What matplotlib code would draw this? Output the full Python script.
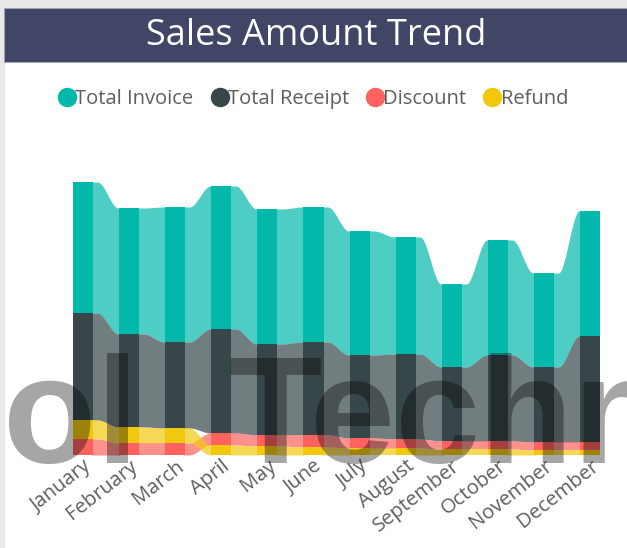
import numpy as np
import matplotlib
matplotlib.use("Agg")
import matplotlib.pyplot as plt
from matplotlib.patches import Rectangle
from matplotlib.lines import Line2D

months = ["January", "February", "March", "April", "May", "June",
          "July", "August", "September", "October", "November", "December"]

# values (thousands)
total_invoice = [131, 126, 135, 143, 135, 135, 124, 117, 83, 115, 94, 125]
total_receipt = [107, 93, 86, 104, 91, 93, 83, 85, 74, 86, 75, 106]
discount = [16, 12, 12, 12, 11, 12, 10, 9, 8, 8, 8, 8]
refund = [19, 16, 15, 10, 9, 8, 7, 7, 6, 6, 5, 5]

series = {
    "Total Invoice": total_invoice,
    "Total Receipt": total_receipt,
    "Discount": discount,
    "Refund": refund,
}
colors = {
    "Total Invoice": "#01B8AA",
    "Total Receipt": "#374649",
    "Discount": "#FD625E",
    "Refund": "#F2C80F",
}

W, H = 627, 548
fig = plt.figure(figsize=(W / 100, H / 100), dpi=100)
fig.patch.set_facecolor("white")

# axes: baseline at y=455px from top, data unit = 1px
base_px = 455
top_px = 130
ax = fig.add_axes([0, (H - base_px) / H, 1, (base_px - top_px) / H])
ax.set_facecolor("none")
ax.set_xlim(-1.80, 11.80)
ax.set_ylim(0, base_px - top_px)
for sp in ax.spines.values():
    sp.set_visible(False)
ax.set_yticks([])

names = list(series)
vals = np.array([series[n] for n in names], dtype=float)
n_cat = vals.shape[1]
x = np.arange(n_cat)
bw = 0.434

# stack per column: smallest at bottom, largest on top
bottoms = np.zeros_like(vals)
for j in range(n_cat):
    order = np.argsort(vals[:, j])
    acc = 0.0
    for k in order:
        bottoms[k, j] = acc
        acc += vals[k, j]
tops = bottoms + vals


def ease(t):
    t = np.clip((t - 0.2) / 0.72, 0, 1)
    return t * t * (3 - 2 * t)


t = np.linspace(0, 1, 80)
ov = 0.03  # tuck ribbon ends under the bars
for k, name in enumerate(names):
    c = colors[name]
    for j in range(n_cat - 1):
        x0, x1 = j + bw / 2 - ov, j + 1 - bw / 2 + ov
        xs = x0 + (x1 - x0) * t
        e = ease(t)
        lo = bottoms[k, j] + (bottoms[k, j + 1] - bottoms[k, j]) * e
        hi = tops[k, j] + (tops[k, j + 1] - tops[k, j]) * e
        ax.fill_between(xs, lo, hi, color=c, alpha=0.7, lw=0, zorder=1)
    ax.bar(x, vals[k], bw, bottom=bottoms[k], color=c, lw=0, zorder=2)

ax.set_xticks(x)
ax.set_xticklabels(months, rotation=38, ha="right", rotation_mode="anchor",
                   fontsize=14.5, color="#605E5C", family="Open Sans")
ax.tick_params(axis="x", length=0, pad=1)

# frame strips and title bar
fig.patches.append(Rectangle((0, 0), 4 / W, 1, transform=fig.transFigure,
                             color="#E9E9E9", zorder=0))
fig.patches.append(Rectangle((0, 1 - 8 / H), 1, 8 / H, transform=fig.transFigure,
                             color="#E9E9E9", zorder=0))
fig.patches.append(Rectangle((4 / W, 1 - 62 / H), 1, 54 / H, transform=fig.transFigure,
                             facecolor="#414566", edgecolor="#9EA3B5", lw=0.8, zorder=1))
fig.text(0.505, 1 - 36 / H, "Sales Amount Trend", color="white", fontsize=26,
         ha="center", va="center", family="Open Sans")

handles = [Line2D([], [], marker="o", ls="none", markersize=13,
                  markerfacecolor=colors[n], markeredgecolor=colors[n]) for n in names]
leg = fig.legend(handles, names, loc="center", bbox_to_anchor=(0.497, 1 - 99 / H),
                 ncol=4, frameon=False, handletextpad=-0.2, columnspacing=0.7,
                 handlelength=1.2, prop={"family": "Open Sans", "size": 14.5})
for txt in leg.get_texts():
    txt.set_color("#605E5C")

# watermark
wm = dict(fontsize=110, family="Liberation Sans", weight="bold", color="black",
          alpha=0.35, va="baseline", ha="left", zorder=5)
fig.text(3 / W, (H - 463) / H, "ol", **wm)
fig.text(228 / W, (H - 463) / H, "Techn", **wm)

fig.savefig("out.png", dpi=100)
